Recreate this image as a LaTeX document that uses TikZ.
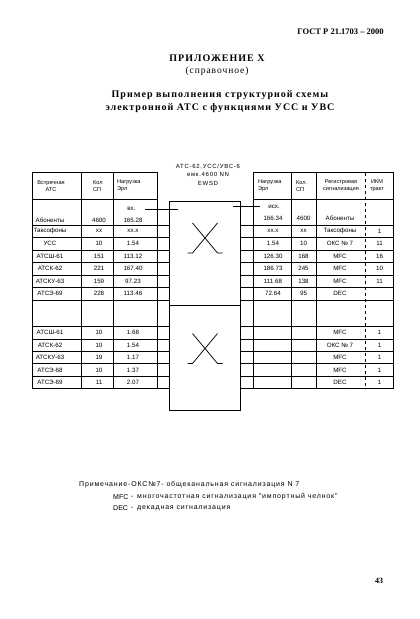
\documentclass[tikz,border=0pt]{standalone}
\usepackage{fontspec}
\setmainfont{Liberation Serif}
\newfontfamily\gost{Liberation Sans}
\newfontfamily\gostwide[LetterSpace=12]{Liberation Sans}
\newfontfamily\titlefont[LetterSpace=10]{Liberation Serif}
\usetikzlibrary{positioning}

\begin{document}
\begin{tikzpicture}[x=1pt, y=-1pt,
        every node/.style={inner sep=0pt},
        grid/.style={line width=0.7pt},
        cross/.style={line width=0.75pt},
        switchbox/.style={draw, line width=0.95pt, minimum width=71.4pt, minimum height=104.5pt},
        cell/.style={font=\gost\fontsize{6.2}{7}\selectfont},
        head/.style={font=\gost\fontsize{5.6}{7}\selectfont, align=center},
        note/.style={font=\gostwide\fontsize{7}{8}\selectfont, anchor=west}]

  \useasboundingbox (0,0) rectangle (420,619);

  % page heading
  \node[font=\bfseries\fontsize{8.5}{10}\selectfont] (gost) at (340.5,32) {ГОСТ Р 21.1703 -- 2000};
  \node[font=\titlefont\bfseries\fontsize{10}{12}\selectfont] (app) at (217,58) {ПРИЛОЖЕНИЕ Х};
  \node[font=\titlefont\fontsize{9.5}{12}\selectfont] (ref) at (217,71) {(справочное)};
  \node[font=\titlefont\bfseries\fontsize{10}{12}\selectfont] (title1) at (220,95) {Пример выполнения структурной схемы};
  \node[font=\titlefont\bfseries\fontsize{10}{12}\selectfont] (title2) at (220,108) {электронной АТС с функциями УСС и УВС};

  % exchange
  \node[font=\gostwide\fontsize{6}{8.5}\selectfont, align=center] (exch) at (208,174.5) {АТС-62,УСС/УВС-6\\емк.4600 NN\\EWSD};
  \node[switchbox] (upper) at (205,253.25) {};
  \node[switchbox] (lower) at (205,357.75) {};
  \coordinate (ux) at ([yshift=15.25pt]upper.center);
  \coordinate (lx) at ([yshift=9.25pt]lower.center);
  \foreach \c in {ux,lx} {
    \draw[cross] ([shift={(-12.5,-15)}]\c) -- ([shift={(12.5,15)}]\c) -- ++(5,0);
    \draw[cross] ([shift={(12.5,-15)}]\c) -- ([shift={(-12.5,15)}]\c) -- ++(-5,0);
  }

  % incoming table
  \draw[grid] (32,172.5) rectangle (157.5,388.5);
  \foreach \x in {81.5,113} \draw[grid] (\x,172.5) -- (\x,388.5);
  \draw[grid] (32,199.5) -- (157.5,199.5);
  \foreach \y in {225,237.5,250,262.5,275,287.5,300}
    \draw[grid] (32,\y) -- (32,\y -| upper.west);
  \foreach \y in {326.5,338.9,351.3,363.7,376.1,388.5}
    \draw[grid] (32,\y) -- (32,\y -| lower.west);
  \node[head] (h1) at (51,186) {Встречная\\АТС};
  \node[head, align=left, anchor=west] (h2) at (93,186) {Кол\\СП};
  \node[head, align=left, anchor=west] (h3) at (117,186) {Нагрузка\\Эрл};
  \node[cell] (vx) at (131.5,209) {вх.};
  \draw[grid, line width=0.8pt] ([xshift=9pt]vx.east) -- ([xshift=9pt]vx.east -| upper.west);
  \foreach \n/\k/\e/\y in {Абоненты/4600/165.28/220, Таксофоны/xx/xx.x/231.25,
      УСС/10/1.54/243.75, АТСШ-61/151/113.12/256.25, АТСК-62/221/167.40/268.75,
      АТСКУ-63/159/97.23/281.25, АТСЭ-69/228/113.46/293.75,
      АТСШ-61/10/1.68/332.7, АТСК-62/10/1.54/345.1, АТСКУ-63/19/1.17/357.5,
      АТСЭ-68/10/1.37/369.9, АТСЭ-69/11/2.07/382.3} {
    \node[cell] at (50,\y) {\n};
    \node[cell] at (99,\y) {\k};
    \node[cell] at (133,\y) {\e};
  }

  % outgoing table
  \draw[grid] (253.3,172.5) rectangle (393.7,388.5);
  \foreach \x in {291.7,316.7} \draw[grid] (\x,172.5) -- (\x,388.5);
  \draw[grid, dashed] (365.7,172.5) -- (365.7,388.5);
  \draw[grid] (253.3,199.5) -- (393.7,199.5);
  \foreach \y in {225,237.5,250,262.5,275,287.5,300}
    \draw[grid] (393.7,\y) -- (393.7,\y -| upper.east);
  \foreach \y in {326.5,338.9,351.3,363.7,376.1,388.5}
    \draw[grid] (393.7,\y) -- (393.7,\y -| lower.east);
  \node[head, align=left, anchor=west] (h4) at (258,186) {Нагрузка\\Эрл};
  \node[head, align=left, anchor=west] (h5) at (296,186) {Кол.\\СП};
  \node[head] (h6) at (341,186) {Регистровая\\сигнализация};
  \node[head] (h7) at (377,186) {ИКМ\\тракт};
  \node[cell] (isx) at (274,206.5) {исх.};
  \draw[grid, line width=0.8pt] ([xshift=-8pt]isx.west) -- ([xshift=-8pt]isx.west -| upper.east);
  \foreach \e/\k/\s/\t/\y in {166.34/4600/Абоненты//218.5, xx.x/xx/Таксофоны/1/231.25,
      1.54/10/ОКС~№~7/11/243.75, 126.30/168/MFC/16/256.25, 186.73/245/MFC/10/268.75,
      111.68/138/MFC/11/281.25, 72.64/95/DEC//293.75,
      //MFC/1/332.7, //ОКС~№~7/1/345.1, //MFC/1/357.5, //MFC/1/369.9, //DEC/1/382.3} {
    \node[cell] at (273,\y) {\e};
    \node[cell] at (303.5,\y) {\k};
    \node[cell] at (340,\y) {\s};
    \node[cell] at (379.5,\y) {\t};
  }

  % note
  \node[note] (n1) at (79,485) {Примечание-ОКС№7-\ общеканальная сигнализация N 7};
  \node[note, font=\gost\fontsize{7}{8}\selectfont] (n2) at (113,497) {MFC};
  \node[note] (n2d) at (131,497) {-};
  \node[note] (n2t) at (137,497) {многочастотная сигнализация "импортный челнок"};
  \node[note, font=\gost\fontsize{7}{8}\selectfont] (n3) at (113,508) {DEC};
  \node[note] (n3d) at (131,508) {-};
  \node[note] (n3t) at (137,508) {декадная сигнализация};

  \node[font=\bfseries\fontsize{8}{10}\selectfont] (page) at (379,581) {43};
\end{tikzpicture}
\end{document}
